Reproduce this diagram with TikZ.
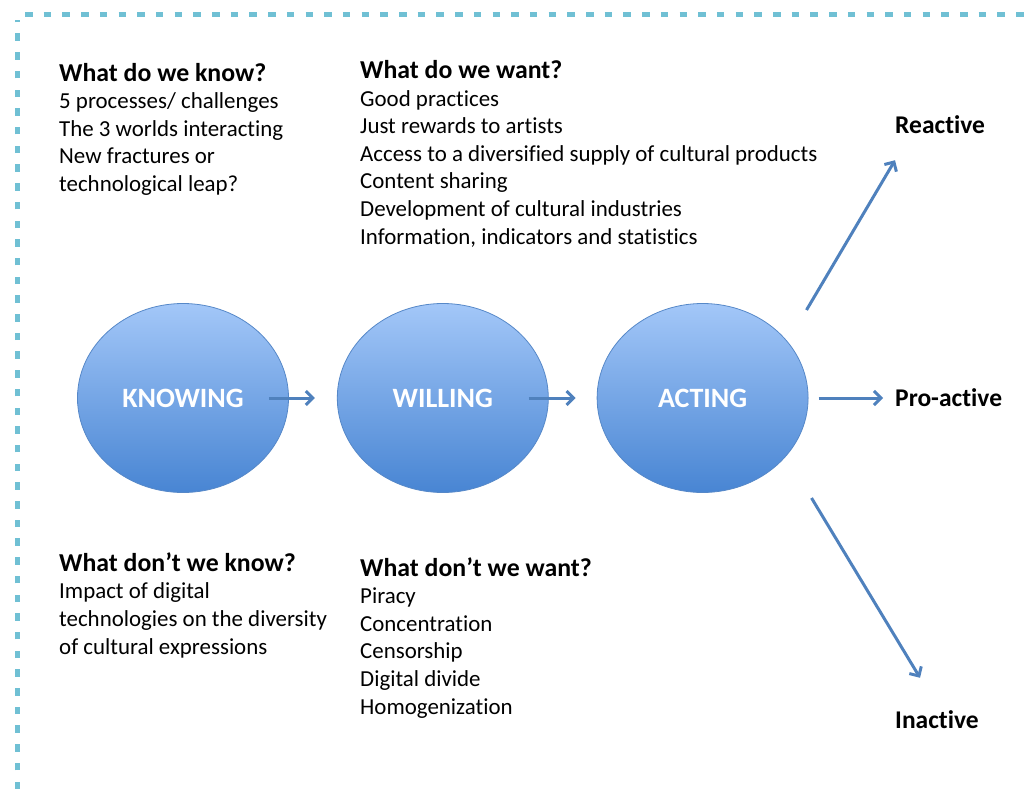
\documentclass[tikz,border=0pt]{standalone}
\usepackage{fontspec}
\setmainfont{Carlito}[Ligatures={TeX,NoCommon}]
\definecolor{lightblue}{RGB}{163,199,248}
\definecolor{deepblue}{RGB}{72,133,211}
\definecolor{edgeblue}{RGB}{86,136,200}
\definecolor{arrowblue}{RGB}{79,129,189}
\definecolor{dashblue}{RGB}{112,192,212}
\usetikzlibrary{shapes.geometric, arrows.meta, positioning}
\newcommand{\topichead}[1]{{\fontsize{25.8}{27.6}\selectfont\bfseries #1}}

\begin{document}
\begin{tikzpicture}[
    x=1pt, y=-1pt,
    node distance=48pt,
    ball/.style={ellipse, draw=edgeblue, line width=0.8pt, top color=lightblue, bottom color=deepblue, minimum width=211pt, minimum height=189pt, inner sep=0pt, text=white, font=\fontsize{28}{34}\selectfont\bfseries},
    topic/.style={anchor=base west, align=left, inner sep=0pt, font=\fontsize{22.9}{27.6}\selectfont},
    outcome/.style={anchor=west, inner sep=0pt, font=\fontsize{25.5}{30}\selectfont\bfseries},
    border/.style={dashblue, line width=5.5pt, dash pattern=on 7.5pt off 11.2pt},
    arrow/.style={-{Straight Barb[length=7pt,width=14pt]}, line width=3pt, color=arrowblue}
]
    \useasboundingbox (0,0) rectangle (1034,789);

    % Frame
    \draw[border] (17.5,789) -- (17.5,20);
    \draw[border] (25,14.5) -- (1034,14.5);

    % Circles
    \node[ball] (knowing) at (183,398) {KNOWING};
    \node[ball, right=of knowing] (willing) {WILLING};
    \node[ball, right=of willing] (acting) {ACTING};

    % Questions (placed by the baseline of their last line)
    \node[topic] (know) at (59,191.5) {\topichead{What do we know?}\\5 processes/ challenges\\The 3 worlds interacting\\New fractures or\\technological leap?};
    \node[topic] (want) at (360,244) {\topichead{What do we want?}\\Good practices\\Just rewards to artists\\Access to a diversified supply of cultural products\\Content sharing\\Development of cultural industries\\Information, indicators and statistics};
    \node[topic] (dontknow) at (59,654) {\topichead{What don’t we know?}\\Impact of digital\\technologies on the diversity\\of cultural expressions};
    \node[topic] (dontwant) at (360,714) {\topichead{What don’t we want?}\\Piracy\\Concentration\\Censorship\\Digital divide\\Homogenization};

    % Outcomes
    \node[outcome] (reactive) at (895,125) {Reactive};
    \node[outcome] (proactive) at (895,398) {Pro-active};
    \node[outcome] (inactive) at (895,720) {Inactive};

    % Arrows
    \draw[arrow] ([xshift=-20pt]knowing.east) -- ([xshift=-22pt]willing.west);
    \draw[arrow] ([xshift=-20pt]willing.east) -- ([xshift=-21pt]acting.west);
    \draw[arrow] ([xshift=-2pt,yshift=88pt]acting.east) -- ([yshift=-26pt]reactive.south west);
    \draw[arrow] ([xshift=10pt]acting.east) -- ([xshift=-12pt]proactive.west);
    \draw[arrow] ([xshift=3pt,yshift=-100pt]acting.east) -- ([xshift=25pt,yshift=33pt]inactive.north west);

\end{tikzpicture}
\end{document}
